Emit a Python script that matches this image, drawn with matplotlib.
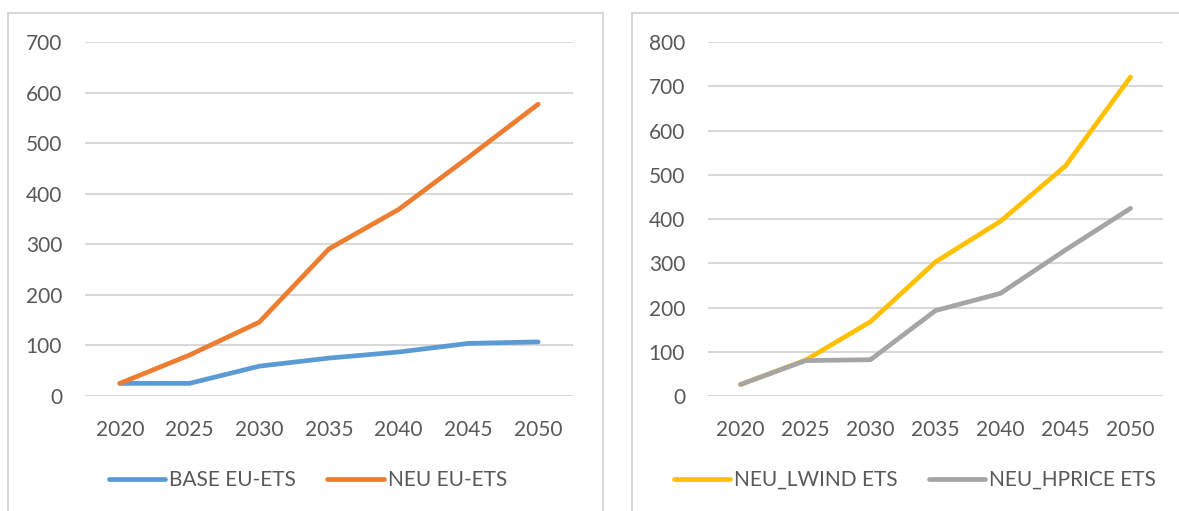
import matplotlib
matplotlib.use("Agg")
import matplotlib.pyplot as plt
from matplotlib.patches import Rectangle

years = ["2020", "2025", "2030", "2035", "2040", "2045", "2050"]

base_eu_ets = [25, 25, 59, 75, 87, 104, 107]
neu_eu_ets = [25, 81, 146, 291, 369, 472, 577]

neu_lwind_ets = [26, 81, 168, 303, 395, 520, 721]
neu_hprice_ets = [26, 80, 82, 193, 232, 330, 424]

W, H = 1179, 511
TEXT = "#595959"
GRID = "#D9D9D9"
FS = 15

plt.rcParams["font.family"] = ["Lato", "DejaVu Sans"]

fig = plt.figure(figsize=(W / 100, H / 100), dpi=100)


def px_axes(x0, x1, y_top, y_bottom):
    """Add axes from pixel bounds (origin at top left)."""
    return fig.add_axes([x0 / W, 1 - y_bottom / H, (x1 - x0) / W, (y_bottom - y_top) / H])


def style(ax, ymax, step):
    x = range(len(years))
    ax.set_xlim(-0.5, len(years) - 0.5)
    ax.set_ylim(0, ymax)
    ax.set_xticks(list(x))
    ax.set_xticklabels(years)
    ax.set_yticks(range(0, ymax + 1, step))
    ax.tick_params(length=0, labelsize=FS, labelcolor=TEXT)
    ax.tick_params(axis="x", pad=17)
    ax.tick_params(axis="y", pad=16.5)
    ax.grid(axis="y", color=GRID, lw=1.5)
    ax.set_axisbelow(True)
    for s in ax.spines.values():
        s.set_visible(False)
    ax.patch.set_alpha(0)


def legend(ax, x_center):
    ax.legend(loc="center", bbox_to_anchor=(x_center / W, 1 - 480 / H),
              bbox_transform=fig.transFigure, ncol=2, frameon=False,
              fontsize=FS, labelcolor=TEXT, handlelength=2.7,
              handletextpad=0.2, columnspacing=1.5)


# panel frames
fig.patches.append(Rectangle((8 / W, -0.01), (603 - 8) / W, 1.01 - 13 / H,
                             transform=fig.transFigure, fill=False,
                             edgecolor=GRID, lw=1.5))
fig.patches.append(Rectangle((632 / W, -0.01), 0.6, 1.01 - 13 / H,
                             transform=fig.transFigure, fill=False,
                             edgecolor=GRID, lw=1.5))

# left: EU-ETS prices
ax1 = px_axes(85, 573, 42, 396)
x = range(len(years))
ax1.plot(x, base_eu_ets, color="#5B9BD5", lw=3.4, solid_capstyle="round",
         label="BASE EU-ETS")
ax1.plot(x, neu_eu_ets, color="#ED7D31", lw=3.4, solid_capstyle="round",
         label="NEU EU-ETS")
style(ax1, 700, 100)
legend(ax1, 308)

# right: sensitivity runs
ax2 = px_axes(708, 1163, 42, 396)
ax2.plot(x, neu_lwind_ets, color="#FFC000", lw=3.4, solid_capstyle="round",
         label="NEU_LWIND ETS")
ax2.plot(x, neu_hprice_ets, color="#A5A5A5", lw=3.4, solid_capstyle="round",
         label="NEU_HPRICE ETS")
style(ax2, 800, 100)
legend(ax2, 915)

fig.savefig("out.png", dpi=100)
